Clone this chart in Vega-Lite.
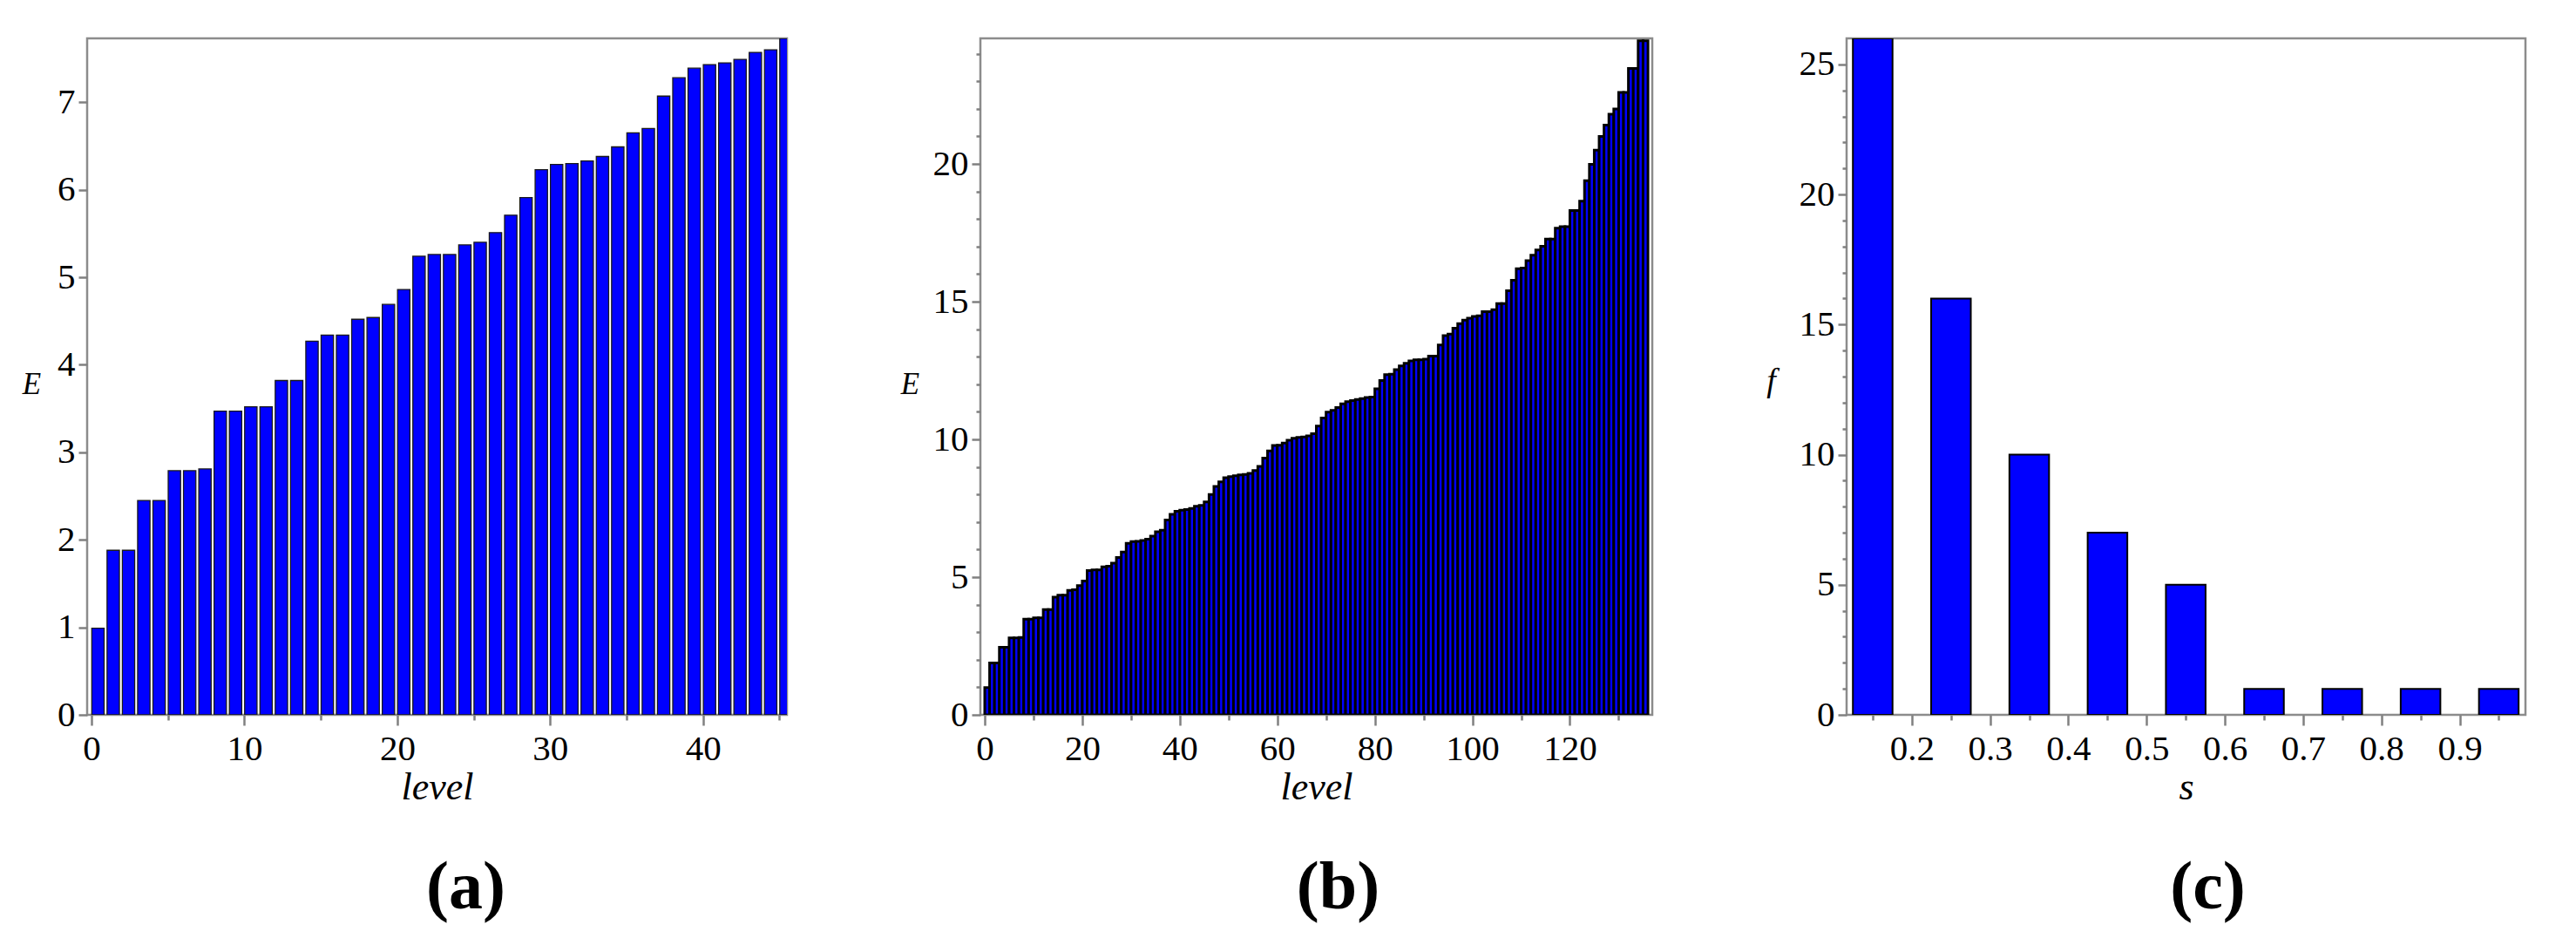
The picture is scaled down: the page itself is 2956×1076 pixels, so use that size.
{
  "$schema": "https://vega.github.io/schema/vega-lite/v6.json",
  "background": "white",
  "padding": {"left": 24, "top": 39, "right": 0, "bottom": 0},
  "spacing": 127,
  "config": {
    "view": {"stroke": "#8c8c8c", "strokeWidth": 2.5},
    "font": "Liberation Serif",
    "axis": {
      "domain": false, "grid": false,
      "labelFont": "Liberation Serif", "labelFontSize": 41, "labelColor": "black",
      "tickColor": "#808080", "tickWidth": 2.5, "labelOverlap": false,
      "titleFont": "Liberation Serif", "titleFontStyle": "italic", "titleFontWeight": "normal", "titleColor": "black"
    },
    "title": {"font": "Liberation Serif", "fontSize": 78, "fontWeight": "bold", "orient": "bottom", "anchor": "middle", "frame": "group", "color": "black", "offset": 55}
  },
  "datasets": {
    "a": [
      {"level": 0, "E": 0.99}, {"level": 1, "E": 1.88}, {"level": 2, "E": 1.88}, {"level": 3, "E": 2.45}, {"level": 4, "E": 2.45},
      {"level": 5, "E": 2.79}, {"level": 6, "E": 2.79}, {"level": 7, "E": 2.81}, {"level": 8, "E": 3.47}, {"level": 9, "E": 3.47},
      {"level": 10, "E": 3.52}, {"level": 11, "E": 3.52}, {"level": 12, "E": 3.82}, {"level": 13, "E": 3.82}, {"level": 14, "E": 4.27},
      {"level": 15, "E": 4.34}, {"level": 16, "E": 4.34}, {"level": 17, "E": 4.52}, {"level": 18, "E": 4.54}, {"level": 19, "E": 4.69},
      {"level": 20, "E": 4.86}, {"level": 21, "E": 5.24}, {"level": 22, "E": 5.26}, {"level": 23, "E": 5.26}, {"level": 24, "E": 5.37},
      {"level": 25, "E": 5.40}, {"level": 26, "E": 5.51}, {"level": 27, "E": 5.71}, {"level": 28, "E": 5.91}, {"level": 29, "E": 6.23},
      {"level": 30, "E": 6.29}, {"level": 31, "E": 6.30}, {"level": 32, "E": 6.33}, {"level": 33, "E": 6.38}, {"level": 34, "E": 6.49},
      {"level": 35, "E": 6.65}, {"level": 36, "E": 6.70}, {"level": 37, "E": 7.07}, {"level": 38, "E": 7.28}, {"level": 39, "E": 7.39},
      {"level": 40, "E": 7.43}, {"level": 41, "E": 7.45}, {"level": 42, "E": 7.49}, {"level": 43, "E": 7.57}, {"level": 44, "E": 7.60},
      {"level": 45, "E": 7.73}
    ],
    "b": [
      {"level": 0, "E": 0.99}, {"level": 1, "E": 1.88}, {"level": 2, "E": 1.88}, {"level": 3, "E": 2.45}, {"level": 4, "E": 2.45},
      {"level": 5, "E": 2.79}, {"level": 6, "E": 2.79}, {"level": 7, "E": 2.81}, {"level": 8, "E": 3.47}, {"level": 9, "E": 3.47},
      {"level": 10, "E": 3.52}, {"level": 11, "E": 3.52}, {"level": 12, "E": 3.82}, {"level": 13, "E": 3.82}, {"level": 14, "E": 4.27},
      {"level": 15, "E": 4.34}, {"level": 16, "E": 4.34}, {"level": 17, "E": 4.52}, {"level": 18, "E": 4.54}, {"level": 19, "E": 4.69},
      {"level": 20, "E": 4.86}, {"level": 21, "E": 5.24}, {"level": 22, "E": 5.26}, {"level": 23, "E": 5.26}, {"level": 24, "E": 5.37},
      {"level": 25, "E": 5.40}, {"level": 26, "E": 5.51}, {"level": 27, "E": 5.71}, {"level": 28, "E": 5.91}, {"level": 29, "E": 6.23},
      {"level": 30, "E": 6.29}, {"level": 31, "E": 6.30}, {"level": 32, "E": 6.33}, {"level": 33, "E": 6.38}, {"level": 34, "E": 6.49},
      {"level": 35, "E": 6.65}, {"level": 36, "E": 6.70}, {"level": 37, "E": 7.07}, {"level": 38, "E": 7.28}, {"level": 39, "E": 7.39},
      {"level": 40, "E": 7.43}, {"level": 41, "E": 7.45}, {"level": 42, "E": 7.49}, {"level": 43, "E": 7.57}, {"level": 44, "E": 7.60},
      {"level": 45, "E": 7.73}, {"level": 46, "E": 8.00}, {"level": 47, "E": 8.29}, {"level": 48, "E": 8.46}, {"level": 49, "E": 8.61},
      {"level": 50, "E": 8.65}, {"level": 51, "E": 8.68}, {"level": 52, "E": 8.71}, {"level": 53, "E": 8.73}, {"level": 54, "E": 8.77},
      {"level": 55, "E": 8.87}, {"level": 56, "E": 9.02}, {"level": 57, "E": 9.32}, {"level": 58, "E": 9.58}, {"level": 59, "E": 9.78},
      {"level": 60, "E": 9.79}, {"level": 61, "E": 9.87}, {"level": 62, "E": 9.97}, {"level": 63, "E": 10.04}, {"level": 64, "E": 10.07},
      {"level": 65, "E": 10.09}, {"level": 66, "E": 10.13}, {"level": 67, "E": 10.21}, {"level": 68, "E": 10.48}, {"level": 69, "E": 10.78},
      {"level": 70, "E": 10.99}, {"level": 71, "E": 11.05}, {"level": 72, "E": 11.16}, {"level": 73, "E": 11.29}, {"level": 74, "E": 11.37},
      {"level": 75, "E": 11.41}, {"level": 76, "E": 11.45}, {"level": 77, "E": 11.48}, {"level": 78, "E": 11.52}, {"level": 79, "E": 11.54},
      {"level": 80, "E": 11.84}, {"level": 81, "E": 12.14}, {"level": 82, "E": 12.35}, {"level": 83, "E": 12.37}, {"level": 84, "E": 12.53},
      {"level": 85, "E": 12.67}, {"level": 86, "E": 12.76}, {"level": 87, "E": 12.85}, {"level": 88, "E": 12.89}, {"level": 89, "E": 12.89},
      {"level": 90, "E": 12.91}, {"level": 91, "E": 13.02}, {"level": 92, "E": 13.02}, {"level": 93, "E": 13.43}, {"level": 94, "E": 13.77},
      {"level": 95, "E": 13.82}, {"level": 96, "E": 14.04}, {"level": 97, "E": 14.20}, {"level": 98, "E": 14.33}, {"level": 99, "E": 14.40},
      {"level": 100, "E": 14.46}, {"level": 101, "E": 14.49}, {"level": 102, "E": 14.64}, {"level": 103, "E": 14.64}, {"level": 104, "E": 14.71},
      {"level": 105, "E": 14.93}, {"level": 106, "E": 14.93}, {"level": 107, "E": 15.40}, {"level": 108, "E": 15.78}, {"level": 109, "E": 16.20},
      {"level": 110, "E": 16.22}, {"level": 111, "E": 16.49}, {"level": 112, "E": 16.69}, {"level": 113, "E": 16.88}, {"level": 114, "E": 17.01},
      {"level": 115, "E": 17.27}, {"level": 116, "E": 17.27}, {"level": 117, "E": 17.67}, {"level": 118, "E": 17.72}, {"level": 119, "E": 17.72},
      {"level": 120, "E": 18.31}, {"level": 121, "E": 18.31}, {"level": 122, "E": 18.65}, {"level": 123, "E": 19.39}, {"level": 124, "E": 19.99},
      {"level": 125, "E": 20.50}, {"level": 126, "E": 21.00}, {"level": 127, "E": 21.41}, {"level": 128, "E": 21.81}, {"level": 129, "E": 22.00},
      {"level": 130, "E": 22.60}, {"level": 131, "E": 22.60}, {"level": 132, "E": 23.47}, {"level": 133, "E": 23.47}, {"level": 134, "E": 24.47},
      {"level": 135, "E": 24.47}
    ],
    "c": [
      {"s": 0.15, "f": 26}, {"s": 0.25, "f": 16}, {"s": 0.35, "f": 10}, {"s": 0.45, "f": 7}, {"s": 0.55, "f": 5},
      {"s": 0.65, "f": 1}, {"s": 0.75, "f": 1}, {"s": 0.85, "f": 1}, {"s": 0.95, "f": 1}
    ]
  },
  "hconcat": [
    {
      "width": 803, "height": 776,
      "data": {"name": "a"},
      "title": {"text": "(a)", "dx": 33},
      "mark": {"type": "bar", "width": 14.2, "xOffset": 7.4, "fill": "#0000ff", "stroke": "#1a1a1a", "strokeWidth": 1.3, "clip": true},
      "encoding": {
        "x": {
          "field": "level", "type": "quantitative",
          "scale": {"domain": [0, 45.2], "nice": false, "zero": false},
          "axis": {
            "values": [0, 5, 10, 15, 20, 25, 30, 35, 40, 45],
            "format": "d",
            "labelExpr": "datum.value % 10 === 0 ? datum.label : ''",
            "tickSize": {"condition": {"test": "datum.value % 10 === 0", "value": 12}, "value": 6},
            "labelPadding": 7,
            "title": "level", "titleFontSize": 44, "titleY": 96, "titleBaseline": "alphabetic"
          }
        },
        "y": {
          "field": "E", "type": "quantitative",
          "scale": {"domain": [0, 7.73], "nice": false},
          "axis": {
            "values": [0, 0.5, 1, 1.5, 2, 2.5, 3, 3.5, 4, 4.5, 5, 5.5, 6, 6.5, 7, 7.5],
            "format": "d",
            "labelExpr": "datum.value % 1 === 0 ? format(datum.value, 'd') : ''",
            "tickSize": {"condition": {"test": "datum.value % 1 === 0", "value": 10}, "value": 5},
            "labelPadding": 4,
            "title": "E", "titleAngle": 0, "titleX": -64, "titleY": 396, "titleAlign": "center", "titleBaseline": "middle", "titleFontSize": 35
          }
        }
      }
    },
    {
      "width": 771, "height": 776,
      "data": {"name": "b"},
      "title": {"text": "(b)", "dx": 25},
      "mark": {"type": "bar", "width": 5.67, "xOffset": 2.835, "fill": "#0000ff", "stroke": "#000000", "strokeWidth": 3, "clip": true},
      "encoding": {
        "x": {
          "field": "level", "type": "quantitative",
          "scale": {"domain": [0, 136], "nice": false, "zero": false},
          "axis": {
            "values": [0, 10, 20, 30, 40, 50, 60, 70, 80, 90, 100, 110, 120, 130],
            "format": "d",
            "labelExpr": "datum.value % 20 === 0 ? datum.label : ''",
            "tickSize": {"condition": {"test": "datum.value % 20 === 0", "value": 12}, "value": 6},
            "labelPadding": 7,
            "title": "level", "titleFontSize": 44, "titleY": 96, "titleBaseline": "alphabetic"
          }
        },
        "y": {
          "field": "E", "type": "quantitative",
          "scale": {"domain": [0, 24.56], "nice": false},
          "axis": {
            "values": [0, 1, 2, 3, 4, 5, 6, 7, 8, 9, 10, 11, 12, 13, 14, 15, 16, 17, 18, 19, 20, 21, 22, 23, 24],
            "format": "d",
            "labelExpr": "datum.value % 5 === 0 ? datum.label : ''",
            "tickSize": {"condition": {"test": "datum.value % 5 === 0", "value": 10}, "value": 5},
            "labelPadding": 4,
            "title": "E", "titleAngle": 0, "titleX": -81, "titleY": 396, "titleAlign": "center", "titleBaseline": "middle", "titleFontSize": 35
          }
        }
      }
    },
    {
      "width": 779, "height": 776,
      "data": {"name": "c"},
      "title": {"text": "(c)", "dx": 25},
      "mark": {"type": "bar", "width": 45.5, "fill": "#0000ff", "stroke": "#000000", "strokeWidth": 2, "clip": true},
      "encoding": {
        "x": {
          "field": "s", "type": "quantitative",
          "scale": {"domain": [0.1222, 0.9785], "nice": false, "zero": false},
          "axis": {
            "values": [0.15, 0.2, 0.25, 0.3, 0.35, 0.4, 0.45, 0.5, 0.55, 0.6, 0.65, 0.7, 0.75, 0.8, 0.85, 0.9, 0.95],
            "format": ".1f",
            "labelExpr": "abs(datum.value * 10 - round(datum.value * 10)) < 0.001 ? datum.label : ''",
            "tickSize": {"condition": {"test": "abs(datum.value * 10 - round(datum.value * 10)) < 0.001", "value": 12}, "value": 6},
            "labelPadding": 7,
            "title": "s", "titleFontSize": 44, "titleY": 96, "titleBaseline": "alphabetic"
          }
        },
        "y": {
          "field": "f", "type": "quantitative",
          "scale": {"domain": [0, 26], "nice": false},
          "axis": {
            "values": [0, 1, 2, 3, 4, 5, 6, 7, 8, 9, 10, 11, 12, 13, 14, 15, 16, 17, 18, 19, 20, 21, 22, 23, 24, 25],
            "format": "d",
            "labelExpr": "datum.value % 5 === 0 ? datum.label : ''",
            "tickSize": {"condition": {"test": "datum.value % 5 === 0", "value": 10}, "value": 5},
            "labelPadding": 4,
            "title": "f", "titleAngle": 0, "titleX": -87, "titleY": 393, "titleAlign": "center", "titleBaseline": "middle", "titleFontSize": 38
          }
        }
      }
    }
  ]
}
